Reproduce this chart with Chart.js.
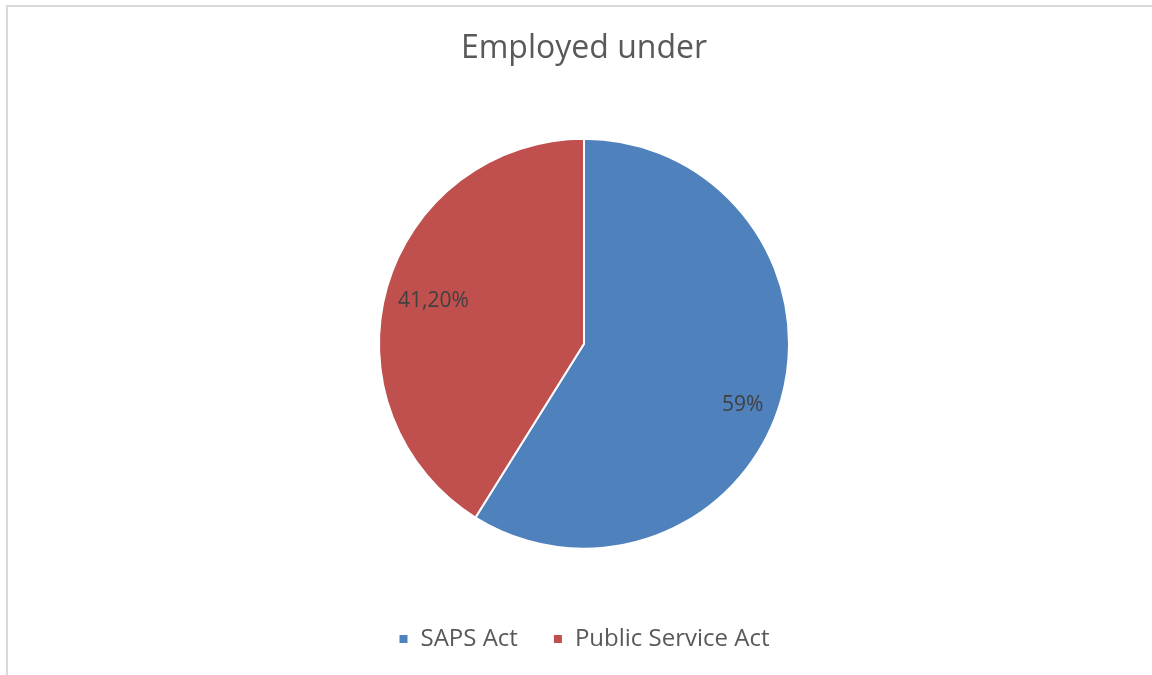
<!DOCTYPE html>
<html>
<head>
<meta charset="utf-8">
<script src="https://cdn.jsdelivr.net/npm/chart.js@4"></script>
<style>
  html, body { margin: 0; padding: 0; background: #fff; }
  #wrap { position: relative; width: 1152px; height: 675px; overflow: hidden; }
  #frame {
    position: absolute; left: 6px; top: 5px; width: 1200px; height: 700px;
    border-left: 2px solid #d9d9d9; border-top: 2px solid #d9d9d9;
    box-sizing: border-box;
  }
  #chart { position: absolute; left: 0; top: 0; }
</style>
</head>
<body>
<div id="wrap">
  <div id="frame"></div>
  <canvas id="chart" width="1152" height="675"></canvas>
</div>
<script>
// ===============================
// DATA
// ===============================
const categories = ["SAPS Act", "Public Service Act"];
const shares = [59, 41.2];            // percent
const labelDecimals = [0, 2];         // digits shown on each slice label
const sliceColors = ["#4f81bd", "#c0504d"];

const FONT = "'Open Sans', 'Noto Sans', sans-serif";

function fmtPct(v, d) {
  return v.toFixed(d).replace(".", ",") + "%";
}

// slice labels: placed on the mid angle at ~0.8 of the radius,
// with a small per-slice nudge so they sit like the "best fit" labels
const LABEL_NUDGE = [[1, 16], [7, 2]];

const sliceLabels = {
  id: "sliceLabels",
  afterDatasetsDraw(chart) {
    const ctx = chart.ctx;
    const meta = chart.getDatasetMeta(0);
    ctx.save();
    ctx.font = "21px " + FONT;
    ctx.fillStyle = "#404040";
    ctx.textAlign = "center";
    ctx.textBaseline = "middle";
    meta.data.forEach((arc, i) => {
      const p = arc.getProps(["x", "y", "startAngle", "endAngle", "outerRadius"], true);
      const mid = (p.startAngle + p.endAngle) / 2;
      const r = p.outerRadius * 0.8;
      const n = LABEL_NUDGE[i] || [0, 0];
      const x = p.x + Math.cos(mid) * r + n[0];
      const y = p.y + Math.sin(mid) * r + n[1];
      ctx.fillText(fmtPct(shares[i], labelDecimals[i]), x, y);
    });
    ctx.restore();
  }
};

new Chart(document.getElementById("chart"), {
  type: "pie",
  data: {
    labels: categories,
    datasets: [{
      data: shares,
      backgroundColor: sliceColors,
      borderColor: "#ffffff",
      borderWidth: 2,
      radius: 205,
    }],
  },
  options: {
    responsive: false,
    animation: false,
    layout: { padding: { left: 16, right: 0, top: 0, bottom: 14 } },
    plugins: {
      title: {
        display: true,
        text: "Employed under",
        color: "#595959",
        font: { family: FONT, size: 32, weight: "normal" },
        padding: { top: 30, bottom: 27 },
      },
      legend: {
        position: "bottom",
        labels: {
          color: "#595959",
          font: { family: FONT, size: 24 },
          boxWidth: 10,
          boxHeight: 10,
          padding: 35,
        },
      },
      tooltip: { enabled: false },
    },
  },
  plugins: [sliceLabels],
});
</script>
</body>
</html>
